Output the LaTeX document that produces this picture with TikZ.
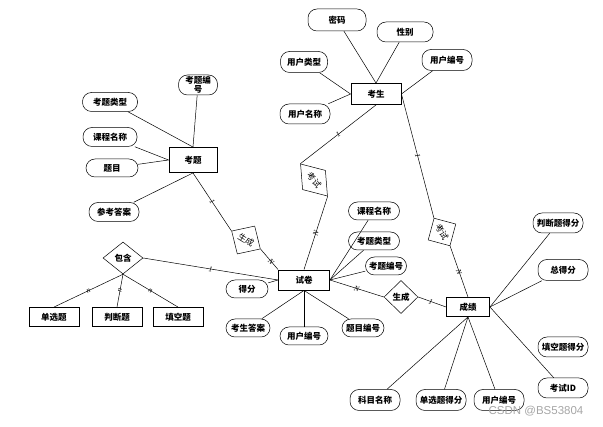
\documentclass[tikz,border=0pt]{standalone}
\usepackage{fontspec}
\setmainfont{Noto Sans CJK SC}
\newfontfamily\latinfont{Liberation Serif}
\newfontfamily\wmfont{Liberation Sans}
\usetikzlibrary{shapes.geometric}
\tikzset{every node/.style={font=\fontsize{8.5}{10}\selectfont\bfseries}}
\tikzset{
  entity/.style={draw, line width=0.9pt, minimum width=50pt, minimum height=20pt, inner sep=1pt},
  attr/.style={draw, rounded corners=9pt, minimum width=50pt, minimum height=19pt, inner xsep=3pt, inner ysep=1pt},
  rel/.style={draw, diamond, inner sep=0pt, minimum width=34pt, minimum height=33pt},
  tilted/.style={rel, font=\fontsize{8.5}{10}\selectfont},
  card/.style={font=\latinfont\itshape\fontsize{7.5}{7.5}\selectfont, sloped, inner sep=0pt}
}

\begin{document}
\begin{tikzpicture}[x=1pt, y=-1pt, line width=0.5pt]
    \useasboundingbox (0,0) rectangle (603,427);
    % 考生
    \node[entity, minimum height=21pt] (student) at (376,94) {考生};
    \node[attr, minimum width=58pt, minimum height=22pt] (pwd) at (337,20) {密码};
    \node[attr, minimum width=56pt, minimum height=20pt] (sex) at (405,32) {性别};
    \node[attr, minimum width=47pt, minimum height=21pt] (utype) at (304,62) {用户类型};
    \node[attr, minimum height=21pt] (uid) at (447,60) {用户编号};
    \node[attr, minimum height=20pt] (uname) at (305,114) {用户名称};
    \draw (pwd) -- (student.north);
    \draw (sex) -- (student.north);
    \draw (utype) -- (student.west);
    \draw (uname) -- (student.west);
    \draw (uid) -- (student.east);
    % 考题
    \node[entity, minimum width=48pt, minimum height=25pt] (question) at (193,160) {考题};
    \node[attr, minimum width=39pt, minimum height=20pt, inner ysep=0pt, align=center, font=\fontsize{8.5}{9}\selectfont\bfseries] (qid) at (198,85) {考题编\\号};
    \node[attr, minimum width=55pt] (qtype) at (110,102) {考题类型};
    \node[attr, minimum width=54pt] (cname) at (110,137) {课程名称};
    \node[attr, minimum width=52pt, minimum height=18pt] (qtext) at (112,168) {题目};
    \node[attr] (answer) at (114,212) {参考答案};
    \draw (qid) -- (question.north);
    \draw (qtype) -- (question.north);
    \draw (cname) -- (question.west);
    \draw (qtext) -- (question.west);
    \draw (answer) -- (question.south);
    % 试卷
    \node[entity, minimum width=51pt] (paper) at (304,280) {试卷};
    \node[attr, minimum width=51pt, minimum height=18pt] (pcname) at (374,211) {课程名称};
    \node[attr, minimum width=51pt, minimum height=18pt] (pqtype) at (374,241) {考题类型};
    \node[attr, minimum width=41pt, minimum height=18pt] (pqid) at (386,266) {考题编号};
    \node[attr, minimum width=42pt, minimum height=18pt] (pscore) at (247,289) {得分};
    \node[attr, minimum width=44pt, minimum height=18pt] (panswer) at (248,328) {考生答案};
    \node[attr, minimum width=48pt, minimum height=18pt] (puid) at (304,336) {用户编号};
    \node[attr, minimum width=42pt, minimum height=18pt] (ptid) at (363,328) {题目编号};
    \draw (pcname) -- (paper.east);
    \draw (pqtype) -- (paper.east);
    \draw (pqid) -- (paper.east);
    \draw (pscore) -- (paper.west);
    \draw (panswer) -- (paper.south);
    \draw (puid) -- (paper.south);
    \draw (ptid) -- (paper.south);
    % 成绩
    \node[entity, minimum width=43pt, minimum height=19pt] (score) at (468,307) {成绩};
    \node[attr, minimum height=20pt] (jscore) at (558,223) {判断题得分};
    \node[attr, minimum height=21pt] (total) at (563,270) {总得分};
    \node[attr, minimum height=20pt] (fscore) at (563,347) {填空题得分};
    \node[attr, minimum height=20pt] (examid) at (563,388) {考试ID};
    \node[attr, minimum height=21pt] (subject) at (375,400) {科目名称};
    \node[attr, minimum height=21pt] (sscore) at (441,400) {单选题得分};
    \node[attr, minimum height=21pt] (suid) at (499,400) {用户编号};
    \draw (jscore) -- (score.east);
    \draw (total) -- (score.east);
    \draw (examid) -- (score.east);
    \draw (subject) -- (score.south);
    \draw (sscore) -- (score.south);
    \draw (suid) -- (score.south);
    % 联系
    \node[tilted, rotate=-32] (make) at (246,240) {生成};
    \node[tilted, rotate=-50, minimum width=42pt, minimum height=30pt] (exama) at (314,180) {考试};
    \node[tilted, rotate=-60, minimum width=32pt, minimum height=32pt] (examb) at (442,232) {考试};
    \node[rel] (gen) at (401,297) {生成};
    \draw (question.south) -- node[card] {1} (make.west);
    \draw (make.east) -- node[card, pos=0.6] {N} (paper.north west);
    \draw (student.south) -- node[card] {1} (exama.west);
    \draw (exama.east) -- node[card] {N} (paper.north);
    \draw (student.east) -- node[card] {1} (examb.west);
    \draw (examb.east) -- node[card] {N} (score.north);
    \draw (paper.east) -- node[card] {N} (gen.west);
    \draw (gen.east) -- node[card, pos=0.45] {1} (score.west);
    % 包含
    \node[rel, minimum width=40pt, minimum height=32pt] (contain) at (123,258) {包含};
    \node[entity, minimum height=19pt] (single) at (54,317) {单选题};
    \node[entity, minimum height=19pt] (judge) at (117,317) {判断题};
    \node[entity, minimum height=19pt] (blank) at (178,317) {填空题};
    \draw (contain.east) -- node[card] {1} (paper.west);
    \draw (contain.south) -- node[card] {n} (single.north);
    \draw (contain.south) -- node[card] {n} (judge.north);
    \draw (contain.south) -- node[card] {n} (blank.north);
    \node[font=\wmfont\fontsize{11.5}{12}\selectfont, text=gray!70] (mark) at (536,411) {CSDN @BS53804};
\end{tikzpicture}
\end{document}
